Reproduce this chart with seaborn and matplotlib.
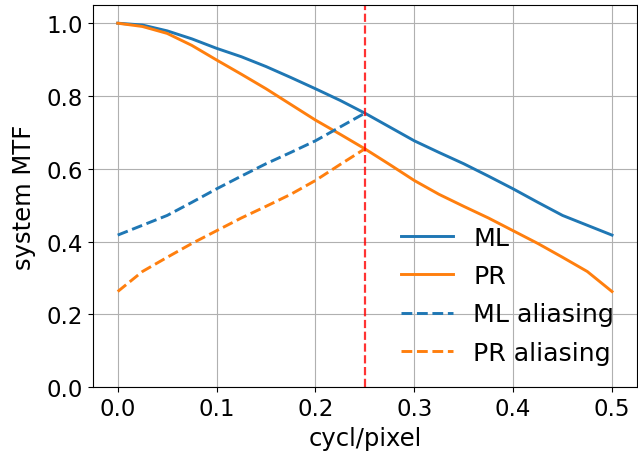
import pandas as pd
import seaborn as sns
import matplotlib
matplotlib.use("Agg")
import matplotlib.pyplot as plt

# spatial frequency (cycles per pixel)
freq = [0.0, 0.025, 0.05, 0.075, 0.1, 0.125, 0.15, 0.175, 0.2, 0.225, 0.25,
        0.275, 0.3, 0.325, 0.35, 0.375, 0.4, 0.425, 0.45, 0.475, 0.5]
ml_mtf = [1.000, 0.995, 0.979, 0.957, 0.931, 0.908, 0.881, 0.851, 0.820, 0.788, 0.753,
          0.715, 0.677, 0.645, 0.614, 0.580, 0.545, 0.508, 0.472, 0.445, 0.418]
pr_mtf = [1.000, 0.991, 0.972, 0.939, 0.899, 0.860, 0.820, 0.777, 0.734, 0.695, 0.655,
          0.612, 0.568, 0.530, 0.497, 0.465, 0.430, 0.395, 0.357, 0.318, 0.263]

# aliasing part, up to nyquist/2
alias_freq = [0.0, 0.025, 0.05, 0.075, 0.1, 0.125, 0.15, 0.175, 0.2, 0.225, 0.25]
ml_alias = [0.418, 0.445, 0.472, 0.508, 0.545, 0.580, 0.614, 0.645, 0.677, 0.715, 0.753]
pr_alias = [0.263, 0.318, 0.357, 0.395, 0.430, 0.465, 0.497, 0.530, 0.568, 0.612, 0.655]

cutoff = 0.25

df = pd.concat([
    pd.DataFrame({"f": freq, "mtf": ml_mtf, "curve": "ML"}),
    pd.DataFrame({"f": freq, "mtf": pr_mtf, "curve": "PR"}),
    pd.DataFrame({"f": alias_freq, "mtf": ml_alias, "curve": "ML aliasing"}),
    pd.DataFrame({"f": alias_freq, "mtf": pr_alias, "curve": "PR aliasing"}),
])

fig, ax = plt.subplots(figsize=(6.38, 4.56), dpi=100)
fig.subplots_adjust(left=93/638, right=0.998, bottom=1 - 388.3/456, top=1 - 6/456)

palette = {"ML": "#1f77b4", "PR": "#ff7f0e", "ML aliasing": "#1f77b4", "PR aliasing": "#ff7f0e"}
dashes = {"ML": "", "PR": "", "ML aliasing": (3.7, 1.6), "PR aliasing": (3.7, 1.6)}
sns.lineplot(data=df, x="f", y="mtf", hue="curve", style="curve", palette=palette,
             dashes=dashes, linewidth=2.1, ax=ax)

ax.axvline(cutoff, color="red", linestyle="--", alpha=0.8, linewidth=1.6)

ax.set_ylim(0, 1.05)
ax.grid(True, color="#b0b0b0", linewidth=0.8)
ax.set_xlabel("cycl/pixel", fontsize=17.5)
ax.set_ylabel("system MTF", fontsize=17.5, labelpad=8)
ax.tick_params(labelsize=16.5)
ax.legend(loc="lower right", frameon=False, fontsize=18.2, title=None,
          handlelength=2.05, labelspacing=0.56, borderaxespad=0.5)

fig.savefig("out.png", dpi=100)
